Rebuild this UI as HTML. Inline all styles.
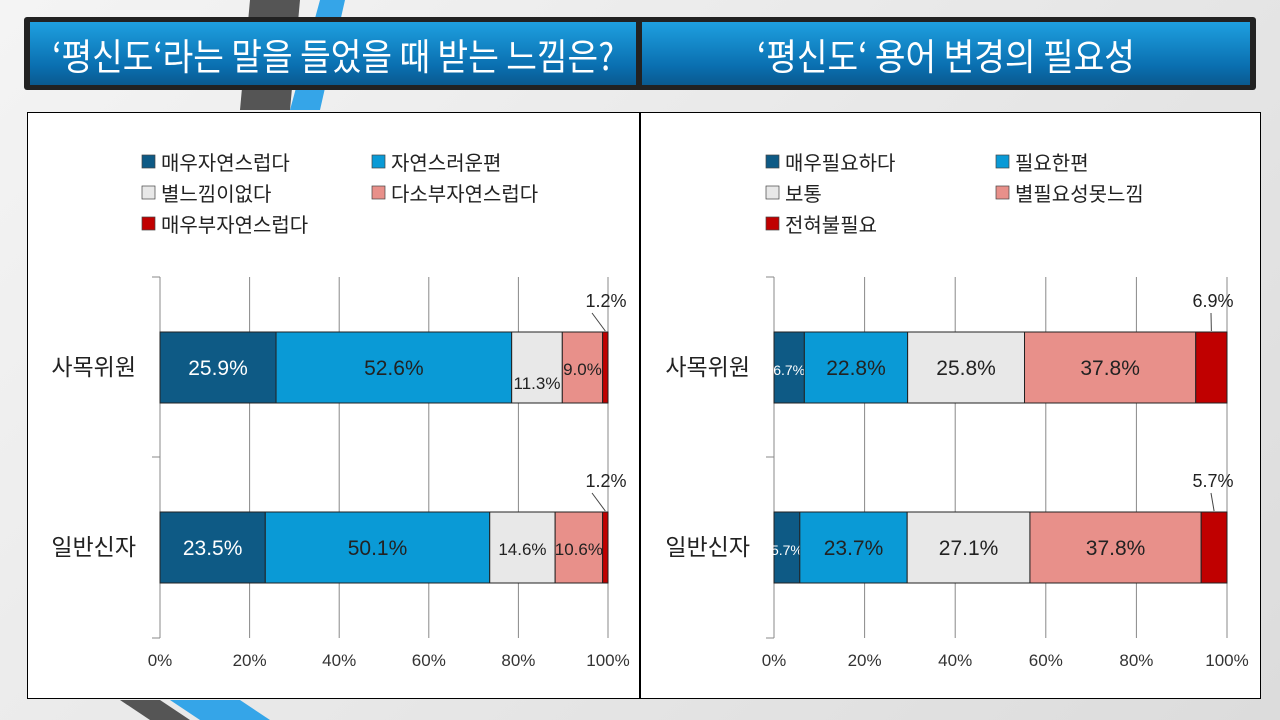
<!DOCTYPE html>
<html><head><meta charset="utf-8"><style>
body{margin:0;width:1280px;height:720px;overflow:hidden;background:linear-gradient(135deg,#f4f4f4,#dcdcdc);font-family:"Liberation Sans","Noto Sans CJK KR",sans-serif;position:relative}
.abs{position:absolute}
.ttl{white-space:nowrap;color:#fff;font-size:37px;font-family:'Noto Sans CJK KR',sans-serif;display:flex;align-items:center;justify-content:center;background:linear-gradient(#1ea0e0,#0a6fb0 70%,#0a5a90);overflow:hidden}
.ttl span{display:inline-block;transform:scaleX(0.9)}
</style></head><body>
<svg class="abs" style="left:0;top:0" width="1280" height="720">
<polygon points="250,0 300,0 290,110 240,110" fill="#555"/>
<polygon points="320,0 345,0 320,110 290,110" fill="#35a5e8"/>
<polygon points="120,700 160,700 190,720 150,720" fill="#555"/>
<polygon points="170,700 240,700 270,720 200,720" fill="#35a5e8"/>
</svg>
<div class="abs" style="left:24px;top:17px;width:1232px;height:73px;background:#222;border-radius:3px"></div>
<div class="abs ttl" style="left:30px;top:22px;width:606px;height:63px"><span>‘평신도‘라는 말을 들었을 때 받는 느낌은?</span></div>
<div class="abs ttl" style="left:642px;top:22px;width:608px;height:63px"><span>‘평신도‘ 용어 변경의 필요성</span></div>
<div class="abs" style="left:27px;top:112px;width:613px;height:587px;background:#fff;border:1px solid #000;box-sizing:border-box"></div>
<div class="abs" style="left:640px;top:112px;width:621px;height:587px;background:#fff;border:1px solid #000;box-sizing:border-box"></div>
<svg id="chart" class="abs" style="left:0;top:0" width="1280" height="720"></svg>
<script>
const categories=["사목위원","일반신자"];
const leftSeries=["매우자연스럽다","자연스러운편","별느낌이없다","다소부자연스럽다","매우부자연스럽다"];
const leftA=[25.9,52.6,11.3,9.0,1.2];
const leftB=[23.5,50.1,14.6,10.6,1.2];
const rightSeries=["매우필요하다","필요한편","보통","별필요성못느낌","전혀불필요"];
const rightA=[6.7,22.8,25.8,37.8,6.9];
const rightB=[5.7,23.7,27.1,37.8,5.7];
const ticks=["0%","20%","40%","60%","80%","100%"];
const colors=["#0e5a85","#0a9ad6","#e8e8e8","#e8908a","#c00000"];
const svg=document.getElementById('chart');const NS="http://www.w3.org/2000/svg";
function el(t,a,txt){const e=document.createElementNS(NS,t);for(const k in a)e.setAttribute(k,a[k]);if(txt!=null)e.textContent=txt;svg.appendChild(e);return e;}
function chart(prefix,x0,x1,series,data,legX){
 const sx=v=>x0+(x1-x0)*v/100;
 const rows=[367,547];
 ticks.forEach((t,i)=>{const x=sx(i*20);
  const g=el('line',{x1:x,x2:x,y1:277,y2:638,stroke:'#888','stroke-width':1});
  
  const l=el('text',{x:x,y:666,'text-anchor':'middle','font-size':17,fill:'#333'},t);
  });
 [277,457,638].forEach(y=>{el('line',{x1:x0-8,x2:x0,y1:y,y2:y,stroke:'#888'});});
 categories.forEach((c,ci)=>{const y=rows[ci];
  const cl=el('text',{x:x0-24,y:y+8,'text-anchor':'end','font-size':23,fill:'#222'},c);
  
  let acc=0;data[ci].forEach((v,si)=>{const a=sx(acc),b=sx(acc+v);acc+=v;
   const r=el('rect',{x:a,y:y-35,width:b-a,height:71,fill:colors[si],stroke:'#222','stroke-width':1});
   
   const lbl=v.toFixed(1)+'%';let tx=(a+b)/2,ty=y+8,fs=v<8?14:(v<15?17:21);
   if(v<3||(si==4&&v<8)){tx=b-14;ty=y-60;fs=18;el('line',{x1:(a+b)/2,y1:y-36,x2:tx-2,y2:ty+6,stroke:'#444'});if(v<3)tx=b-2;}
   if(prefix=='left'&&si==2&&ci==0)ty=y+22;
   const t=el('text',{x:tx,y:ty,'text-anchor':'middle','font-size':fs,fill:si==0?'#fff':'#222'},lbl);
   });
 });
 series.forEach((s,i)=>{const lx=legX+(i%2)*230,ly=162+Math.floor(i/2)*31;
  const sw=el('rect',{x:lx,y:ly-7,width:13,height:13,fill:colors[i],stroke:'#444','stroke-width':0.7});
  
  const t=el('text',{x:lx+19,y:ly+8,'font-size':20,fill:'#222'},s);
  });
}
chart('left',160,608,leftSeries,[leftA,leftB],142);
chart('right',774,1227,rightSeries,[rightA,rightB],766);
</script>
</body></html>
